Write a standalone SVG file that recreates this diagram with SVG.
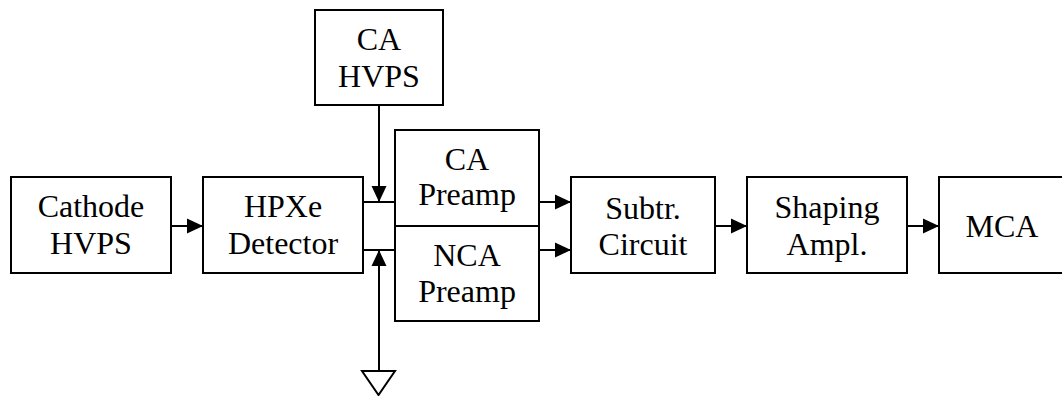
<svg xmlns="http://www.w3.org/2000/svg" width="1062" height="396" viewBox="0 0 1062 396">
<style>
.box{fill:#fff;stroke:#000;stroke-width:2}
.ln{fill:none;stroke:#000;stroke-width:2}
text{font-family:Liberation Serif, DejaVu Serif, serif;font-size:32px;fill:#000;text-anchor:middle}
</style>
<defs>
<marker id="ah" markerUnits="userSpaceOnUse" markerWidth="16" markerHeight="16" viewBox="0 0 16 16" refX="16" refY="8" orient="auto">
<path d="M0,0.5 L16,8 L0,15.5 Z" fill="#000"/>
</marker>
</defs>
<rect width="1062" height="396" fill="#fff"/>
<g id="connectors">
<line class="ln" x1="171" y1="226" x2="203" y2="226" marker-end="url(#ah)"/>
<line class="ln" x1="363" y1="202" x2="395" y2="202"/>
<line class="ln" x1="363" y1="250" x2="395" y2="250"/>
<line class="ln" x1="379" y1="105" x2="379" y2="202" marker-end="url(#ah)"/>
<line class="ln" x1="379" y1="371" x2="379" y2="250" marker-end="url(#ah)"/>
<line class="ln" x1="539" y1="202" x2="571" y2="202" marker-end="url(#ah)"/>
<line class="ln" x1="539" y1="250" x2="571" y2="250" marker-end="url(#ah)"/>
<line class="ln" x1="715" y1="226" x2="747" y2="226" marker-end="url(#ah)"/>
<line class="ln" x1="907" y1="226" x2="939" y2="226" marker-end="url(#ah)"/>
</g>
<g id="ground">
<polygon class="ln" points="362,371 395,371 378.5,395"/>
</g>
<g id="cathode-hvps">
<rect class="box" x="11" y="177" width="160" height="96"/>
<text x="91" y="217">Cathode</text>
<text x="91" y="254">HVPS</text>
</g>
<g id="hpxe-detector">
<rect class="box" x="203" y="177" width="160" height="96"/>
<text x="283" y="217">HPXe</text>
<text x="283" y="254">Detector</text>
</g>
<g id="ca-hvps">
<rect class="box" x="315" y="10" width="128" height="95"/>
<text x="379" y="50">CA</text>
<text x="379" y="87">HVPS</text>
</g>
<g id="ca-preamp">
<rect class="box" x="395" y="130" width="144" height="96"/>
<text x="467" y="170">CA</text>
<text x="467" y="205">Preamp</text>
</g>
<g id="nca-preamp">
<rect class="box" x="395" y="226" width="144" height="95"/>
<text x="467" y="266">NCA</text>
<text x="467" y="302">Preamp</text>
</g>
<g id="subtr-circuit">
<rect class="box" x="571" y="177" width="144" height="96"/>
<text x="643" y="219">Subtr.</text>
<text x="643" y="255">Circuit</text>
</g>
<g id="shaping-ampl">
<rect class="box" x="747" y="177" width="160" height="96"/>
<text x="827" y="218">Shaping</text>
<text x="827" y="255">Ampl.</text>
</g>
<g id="mca">
<rect class="box" x="939" y="177" width="160" height="96"/>
<text x="1002" y="237">MCA</text>
</g>
</svg>
